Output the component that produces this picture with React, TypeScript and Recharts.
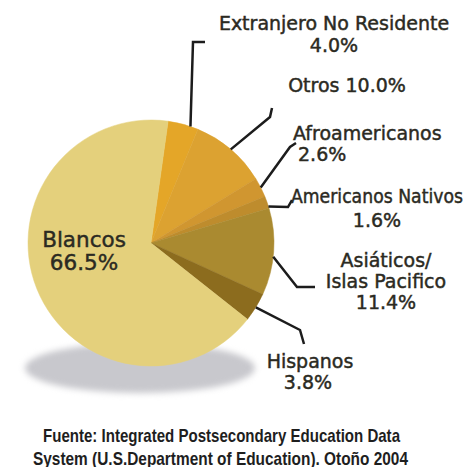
import React from 'react';
import { PieChart, Pie, Cell } from 'recharts';

const categories = [
  'Extranjero No Residente',
  'Otros',
  'Afroamericanos',
  'Americanos Nativos',
  'Asiáticos/ Islas Pacifico',
  'Hispanos',
  'Blancos',
];
const percentages = [4.0, 10.0, 2.6, 1.6, 11.4, 3.8, 66.5];
const sliceColors = ['#E4A628', '#DCA231', '#D09630', '#BE8C2D', '#AA8A30', '#8C6C1E', '#E4D07C'];
const footerLines = [
  'Fuente: Integrated Postsecondary Education Data',
  'System (U.S.Department of Education). Otoño 2004',
];

const data = categories.map((name, i) => ({ name, value: percentages[i] }));
const pct = (v: number) => v.toFixed(1) + '%';

type LabelLine = { text: string; x: number; y: number; anchor: 'start' | 'middle' | 'end'; len?: number };
type LabelLayout = { shift: number; pts: number[][]; lines: LabelLine[]; size: number };

// label annotation layout (leader elbows and text anchors)
const labelLayout: LabelLayout[] = [
  {
    shift: -3.5,
    pts: [[193, 42], [205, 42]],
    lines: [
      { text: 'Extranjero No Residente', x: 334, y: 23, anchor: 'middle' },
      { text: '%', x: 334, y: 45, anchor: 'middle' },
    ],
    size: 19,
  },
  {
    shift: 0,
    pts: [[270, 117], [272, 108]],
    lines: [{ text: 'Otros %', x: 347, y: 85, anchor: 'middle' }],
    size: 19,
  },
  {
    shift: 0,
    pts: [[290, 147], [296, 143]],
    lines: [
      { text: 'Afroamericanos', x: 293, y: 133, anchor: 'start' },
      { text: '%', x: 298, y: 154, anchor: 'start' },
    ],
    size: 19,
  },
  {
    shift: -2,
    pts: [[288, 207], [292, 200]],
    lines: [
      { text: 'Americanos Nativos', x: 291, y: 196, anchor: 'start', len: 172 },
      { text: '%', x: 377, y: 220, anchor: 'middle' },
    ],
    size: 19,
  },
  {
    shift: -2.3,
    pts: [[297, 287], [315, 287]],
    lines: [
      { text: 'Asiáticos/', x: 386, y: 260, anchor: 'middle' },
      { text: 'Islas Pacifico', x: 386, y: 281, anchor: 'middle' },
      { text: '%', x: 386, y: 302, anchor: 'middle' },
    ],
    size: 19,
  },
  {
    shift: 0,
    pts: [[300, 330], [304, 344]],
    lines: [
      { text: 'Hispanos', x: 310, y: 361, anchor: 'middle' },
      { text: '%', x: 308, y: 382, anchor: 'middle' },
    ],
    size: 19,
  },
  {
    shift: 0,
    pts: [],
    lines: [
      { text: 'Blancos', x: 84, y: 239, anchor: 'middle' },
      { text: '%', x: 84, y: 262, anchor: 'middle' },
    ],
    size: 21.5,
  },
];

const RAD = Math.PI / 180;

const renderLabel = (props: any) => {
  const { cx, cy, midAngle, outerRadius, index } = props;
  const lay = labelLayout[index];
  const v = percentages[index];
  const ang = (midAngle + lay.shift) * RAD;
  const sx = cx + outerRadius * Math.cos(ang);
  const sy = cy - outerRadius * Math.sin(ang);
  const poly = lay.pts.length
    ? [[sx, sy], ...lay.pts].map((p) => p.join(',')).join(' ')
    : '';
  return (
    <g key={'lbl' + index}>
      {poly && (
        <polyline
          points={poly}
          fill="none"
          stroke="#1c1c1c"
          strokeWidth={2.5}
          strokeLinejoin="miter"
        />
      )}
      {lay.lines.map((ln, j) => (
        <text
          key={j}
          x={ln.x}
          y={ln.y}
          textAnchor={ln.anchor}
          dominantBaseline="central"
          fontFamily="'DejaVu Sans', Verdana, sans-serif"
          fontSize={lay.size}
          fill="#2b2a22"
          stroke="#2b2a22"
          strokeWidth={0.45}
          {...(ln.len ? { textLength: ln.len, lengthAdjust: 'spacingAndGlyphs' } : {})}
        >
          {ln.text === '%' ? pct(v) : ln.text.replace('%', pct(v))}
        </text>
      ))}
    </g>
  );
};

export default function App() {
  return (
    <div style={{ position: 'absolute', left: 0, top: 0, width: 471, height: 467, background: '#fff', overflow: 'hidden' }}>
      <div
        style={{
          position: 'absolute',
          left: 25,
          top: 343,
          width: 230,
          height: 50,
          borderRadius: '50%',
          background: '#C8C8CD',
          filter: 'blur(3px)',
        }}
      />
      <div style={{ position: 'absolute', left: 0, top: 0 }}>
        <PieChart width={471} height={467} margin={{ top: 0, right: 0, bottom: 0, left: 0 }}>
          <Pie
            data={data}
            dataKey="value"
            nameKey="name"
            cx={151}
            cy={243}
            outerRadius={123}
            startAngle={82}
            endAngle={-278}
            stroke="none"
            label={renderLabel}
            labelLine={false}
            isAnimationActive={false}
          >
            {data.map((d, i) => (
              <Cell key={d.name} fill={sliceColors[i]} stroke={sliceColors[i]} strokeWidth={0.5} />
            ))}
          </Pie>
        </PieChart>
      </div>
      <svg style={{ position: 'absolute', left: 0, top: 0 }} width={471} height={467}>
        {footerLines.map((l, i) => (
          <text
            key={l}
            x={i === 0 ? 43 : 33}
            y={i === 0 ? 435 : 458}
            dominantBaseline="central"
            textLength={i === 0 ? 357 : 375}
            lengthAdjust="spacingAndGlyphs"
            fontFamily="'Liberation Sans', Arial, sans-serif"
            fontWeight="bold"
            fontSize={19}
            fill="#1e1e1e"
          >
            {l}
          </text>
        ))}
      </svg>
    </div>
  );
}
